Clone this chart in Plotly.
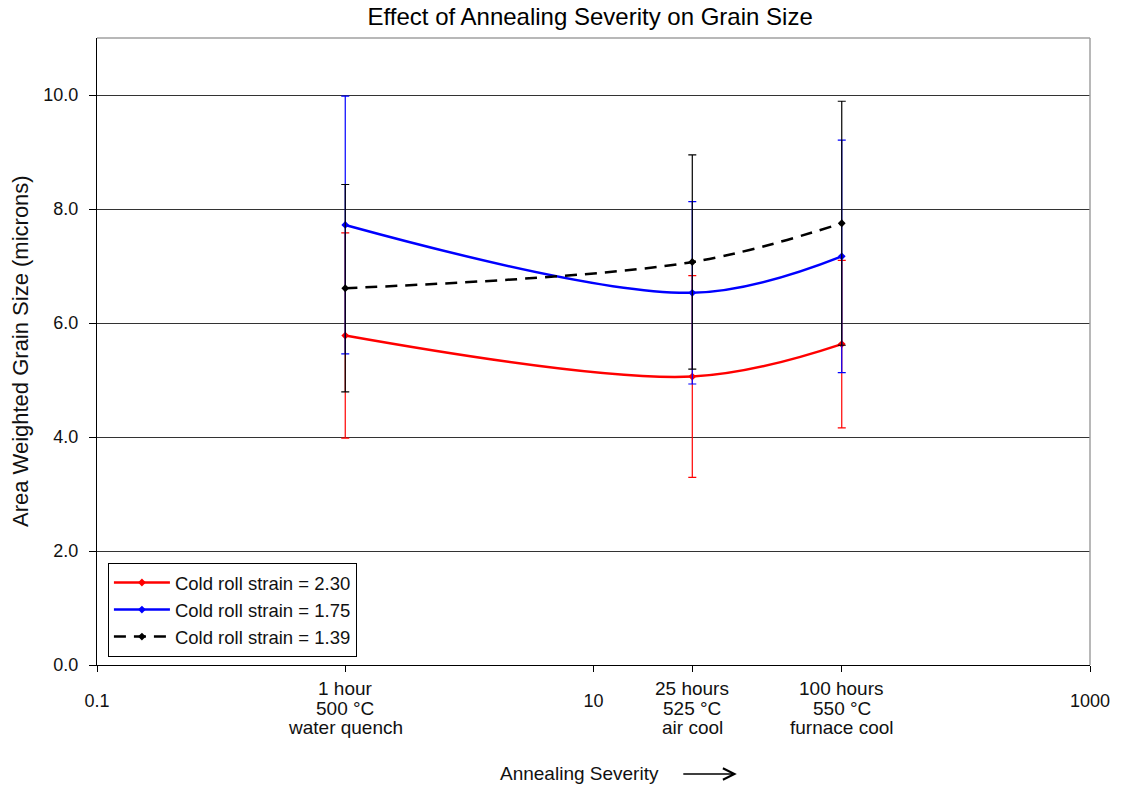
import math
import plotly.graph_objects as go

# Annealing time (hours) for each treatment
hours = [1, 25, 100]

# Mean area-weighted grain size (microns) and spread per cold-roll strain
strain_labels = ["Cold roll strain = 2.30", "Cold roll strain = 1.75", "Cold roll strain = 1.39"]
size_230 = [5.78, 5.06, 5.63]
err_230 = [1.80, 1.77, 1.47]
size_175 = [7.72, 6.53, 7.17]
err_175 = [2.26, 1.60, 2.04]
size_139 = [6.61, 7.07, 7.75]
err_139 = [1.82, 1.88, 2.14]

# Axis tick labels
x_ticks = [0.1, 1, 10, 25, 100, 1000]
x_tick_text = ["0.1", "", "10", "", "", "1000"]
treatment_lines = [
    ["1 hour", "500 °C", "water quench"],
    ["25 hours", "525 °C", "air cool"],
    ["100 hours", "550 °C", "furnace cool"],
]
y_ticks = [0, 2, 4, 6, 8, 10]

FONT = "Liberation Sans, Arial, sans-serif"
TXT = "#111111"
TICK_SIZE = 18
LABEL_SIZE = 19

series = [
    (strain_labels[0], size_230, err_230, "#ff0000", "solid"),
    (strain_labels[1], size_175, err_175, "#0000ff", "solid"),
    (strain_labels[2], size_139, err_139, "#000000", "12px,8px"),
]

fig = go.Figure()
for name, ys, errs, col, dash in series:
    fig.add_trace(go.Scatter(
        x=hours, y=ys, name=name, mode="lines+markers",
        line=dict(color=col, width=2.5, dash=dash, shape="spline", smoothing=1.0),
        marker=dict(symbol="diamond", size=6, color=col),
        error_y=dict(type="data", array=errs, visible=True,
                     color=col, thickness=1.2, width=4),
    ))

fig.update_layout(
    width=1122, height=788,
    margin=dict(l=97, r=22, t=38, b=123),
    paper_bgcolor="white", plot_bgcolor="white",
    font=dict(family=FONT, size=TICK_SIZE, color=TXT),
    title=dict(text="Effect of Annealing Severity on Grain Size",
               x=0.526, xref="container", xanchor="center",
               y=1 - 17 / 788, yref="container", yanchor="middle",
               font=dict(size=24, color="#000000")),
    xaxis=dict(type="log", range=[-1, 3],
               tickvals=x_ticks, ticktext=x_tick_text,
               ticks="outside", ticklen=6, tickcolor="#000000",
               ticklabelstandoff=13, tickfont=dict(size=TICK_SIZE),
               showline=True, linecolor="#000000", linewidth=1,
               showgrid=False, zeroline=False),
    yaxis=dict(range=[0, 11], tickvals=y_ticks, tickformat=".1f",
               ticks="outside", ticklen=7, tickcolor="#000000",
               ticklabelstandoff=7, tickfont=dict(size=TICK_SIZE),
               showline=True, linecolor="#000000", linewidth=1,
               showgrid=True, gridcolor="#333333", gridwidth=1,
               zeroline=False),
    legend=dict(x=0.011, y=0.0128, xanchor="left", yanchor="bottom",
                bgcolor="white", bordercolor="#000000", borderwidth=1,
                font=dict(size=18.5, color=TXT), itemwidth=56,
                tracegroupgap=0),
    showlegend=True,
)

# light frame on the top and right edges of the plot area
fig.add_shape(type="line", xref="paper", yref="paper", x0=0, x1=1, y0=1, y1=1,
              line=dict(color="#a0a0a0", width=1.5))
fig.add_shape(type="line", xref="paper", yref="paper", x0=1, x1=1, y0=0, y1=1,
              line=dict(color="#a0a0a0", width=1.5))

# treatment descriptions beneath their tick marks, one line at a time
line_offsets = [-23, -43, -62]
for h, lines in zip(hours, treatment_lines):
    for txt, dy in zip(lines, line_offsets):
        fig.add_annotation(x=math.log10(h), xref="x", y=0, yref="paper", text=txt,
                           showarrow=False, xanchor="center", yanchor="middle",
                           yshift=dy, font=dict(size=LABEL_SIZE, color=TXT))

# axis titles
fig.add_annotation(x=-0.077, xref="paper", y=0.5, yref="paper",
                   text="Area Weighted Grain Size (microns)", textangle=-90,
                   showarrow=False, xanchor="center", yanchor="middle",
                   font=dict(size=22, color=TXT))
fig.add_annotation(x=0.4855, xref="paper", y=-0.1738, yref="paper",
                   text="Annealing Severity", showarrow=False,
                   xanchor="center", yanchor="middle",
                   font=dict(size=LABEL_SIZE, color=TXT))
fig.add_annotation(x=0.6443, xref="paper", y=-0.1738, yref="paper",
                   text="", showarrow=True, ax=-55, ay=0,
                   arrowhead=5, arrowsize=1.4, arrowwidth=1.6,
                   arrowcolor="#000000")

fig.write_html("out.html")
